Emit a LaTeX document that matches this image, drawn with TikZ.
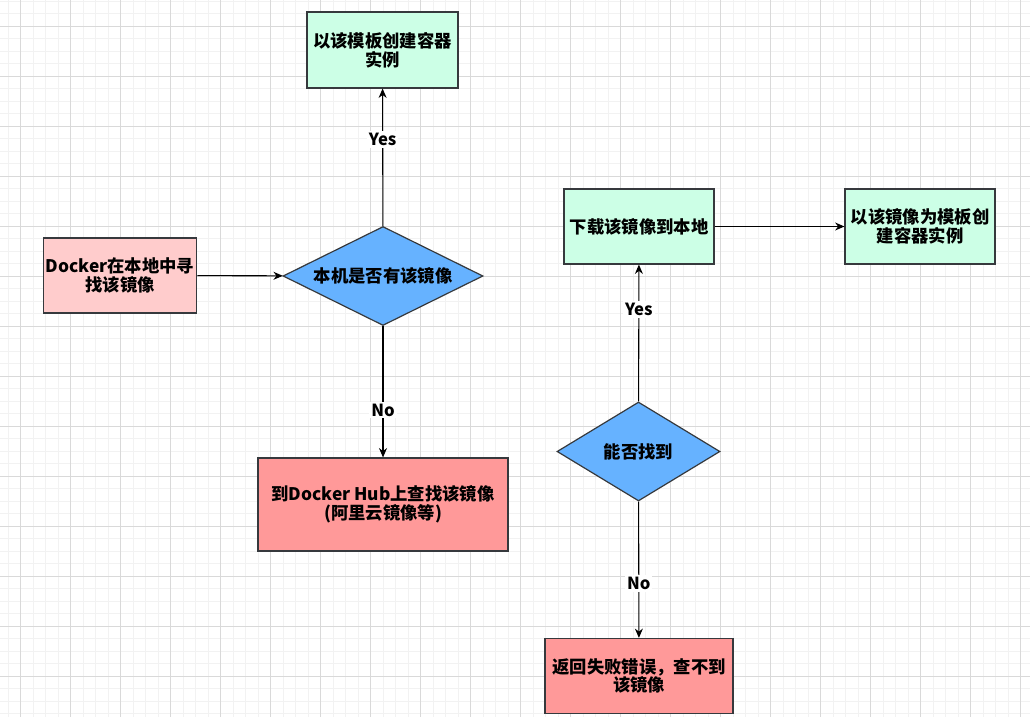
\documentclass[tikz,border=0pt]{standalone}
\usepackage{fontspec}
\setmainfont{Noto Sans CJK SC}
\usetikzlibrary{arrows.meta,shapes.geometric}

\definecolor{edgegray}{HTML}{36393D}
\definecolor{decblue}{HTML}{66B2FF}
\definecolor{okgreen}{HTML}{CCFFE6}
\definecolor{startpink}{HTML}{FFCCCC}
\definecolor{failred}{HTML}{FF9999}

\tikzset{
    stepbox/.style={draw=edgegray, line width=0.9pt, rectangle, align=center,
        minimum width=112.5pt, minimum height=56.25pt, inner sep=2pt,
        font=\fontsize{13}{14}\selectfont\bfseries},
    decide/.style={draw=edgegray, line width=0.9pt, diamond, fill=decblue, inner sep=0pt,
        aspect=2.02, minimum width=150pt, minimum height=74.25pt,
        font=\fontsize{13}{14}\selectfont\bfseries},
    flow/.style={-{Stealth[length=7pt,width=6pt]}, line width=0.8pt, black},
    answer/.style={fill=white, inner sep=1.5pt, font=\fontsize{12.5}{13}\selectfont\bfseries},
    gridminor/.style={line width=0.6pt, draw=black!5},
    gridmajor/.style={line width=0.6pt, draw=black!15}
}

\begin{document}
\begin{tikzpicture}[x=0.75pt, y=-0.75pt]
    \fill[white] (0,0) rectangle (1030,717);
    \useasboundingbox (0,0) rectangle (1030,717);

    % grid
    \foreach \gx in {8,20.5,...,1030} \draw[gridminor] (\gx,0) -- (\gx,717);
    \foreach \gy in {1,13.5,...,717} \draw[gridminor] (0,\gy) -- (1030,\gy);
    \foreach \gx in {20.5,70.5,...,1030} \draw[gridmajor] (\gx,0) -- (\gx,717);
    \foreach \gy in {26,76,...,717} \draw[gridmajor] (0,\gy) -- (1030,\gy);

    % left part
    \node[stepbox, fill=startpink] (search) at (120,275.5) {Docker在本地中寻\\找该镜像};
    \node[decide] (local) at (383,276) {本机是否有该镜像};
    \node[stepbox, fill=okgreen, minimum width=113.25pt, minimum height=57pt] (create) at (382.5,50) {以该模板创建容器\\实例};
    \node[stepbox, fill=failred, minimum width=187.5pt, minimum height=69.75pt] (hub) at (383,504.5) {到Docker Hub上查找该镜像\\(阿里云镜像等)};

    % right part
    \node[stepbox, fill=okgreen] (pull) at (639,226.5) {下载该镜像到本地};
    \node[stepbox, fill=okgreen] (run) at (920,226.5) {以该镜像为模板创\\建容器实例};
    \node[decide, aspect=1.65, minimum width=122.25pt] (found) at (638.5,451.5) {能否找到};
    \node[stepbox, fill=failred, minimum width=141pt] (fail) at (639,676) {返回失败错误，查不到\\该镜像};

    \draw[flow] (search) -- (local);
    \draw[flow] (local) -- node[answer, pos=0.63] {Yes} (create);
    \draw[flow] (local) -- node[answer, pos=0.64] {No} (hub);
    \draw[flow] (found) -- node[answer, pos=0.67] {Yes} (pull);
    \draw[flow] (found) -- node[answer, pos=0.6] {No} (fail);
    \draw[flow] (pull) -- (run);
\end{tikzpicture}
\end{document}
